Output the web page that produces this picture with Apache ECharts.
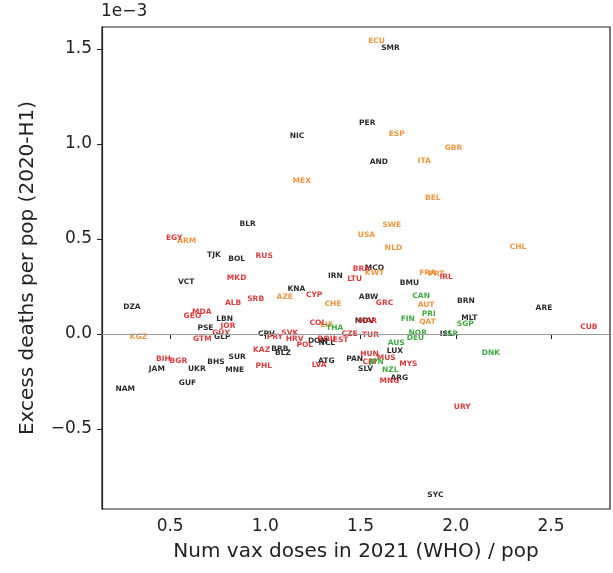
<!DOCTYPE html>
<html>
<head>
<meta charset="UTF-8">
<script src="https://cdn.jsdelivr.net/npm/echarts@6/dist/echarts.min.js"></script>
<style>
  html, body { margin: 0; padding: 0; background: #fff; }
  #chart { width: 613px; height: 573px; }
</style>
</head>
<body>
<div id="chart"></div>
<script>
// country codes, vax doses per pop (x), excess deaths per pop in 1e-3 (y), colour group
const codes = ["ECU","SMR","PER","ESP","NIC","GBR","AND","ITA","MEX","BEL","SWE","USA","NLD","CHL",
  "BLR","EGY","ARM","TJK","BOL","RUS","VCT","MKD","BRA","MCO","KWT","IRN","LTU","FRA","PRT","IRL",
  "BMU","KNA","CYP","ABW","GRC","CAN","BRN","ARE","CHE","AUT","PRI","FIN","QAT","MLT","SGP","CUB",
  "DZA","ALB","SRB","AZE","MDA","GEO","LBN","JOR","PSE","KGZ","GTM","GLP","GUY","CPV","PRY","SVK",
  "HRV","POL","COL","LIE","THA","MDV","MAR","CZE","TUR","DOM","ROU","NCL","EST","NOR","DEU","ISL",
  "ISR","AUS","LUX","HUN","CRI","JPN","MUS","PAN","SLV","LVA","ATG","MYS","NZL","ARG","MNG","DNK",
  "URY","SYC","KAZ","BRB","BLZ","PHL","BIH","BGR","JAM","BHS","SUR","UKR","MNE","GUF","NAM"];
const vaxDoses = [1.584,1.657,1.535,1.690,1.166,1.988,1.596,1.834,1.191,1.879,1.664,1.531,1.673,2.327,
  0.907,0.521,0.587,0.730,0.849,0.994,0.584,0.849,1.505,1.573,1.573,1.368,1.469,1.852,1.898,1.949,
  1.757,1.163,1.256,1.542,1.626,1.818,2.053,2.463,1.355,1.844,1.858,1.748,1.852,2.071,2.050,2.699,
  0.299,0.831,0.949,1.102,0.666,0.617,0.786,0.804,0.685,0.334,0.669,0.774,0.767,1.006,1.050,1.128,
  1.154,1.207,1.276,1.322,1.364,1.521,1.537,1.442,1.552,1.276,1.322,1.322,1.395,1.800,1.788,1.950,
  1.976,1.687,1.680,1.547,1.547,1.584,1.635,1.469,1.526,1.282,1.320,1.751,1.656,1.704,1.652,2.184,
  2.034,1.893,0.980,1.076,1.092,0.992,0.465,0.543,0.430,0.741,0.852,0.640,0.839,0.591,0.264];
const excessDeaths = [1.542,1.505,1.109,1.054,1.042,0.980,0.905,0.911,0.807,0.716,0.572,0.523,0.453,0.459,
  0.581,0.507,0.489,0.414,0.396,0.411,0.275,0.295,0.342,0.345,0.321,0.305,0.291,0.319,0.318,0.302,
  0.267,0.235,0.205,0.193,0.162,0.200,0.174,0.135,0.158,0.151,0.107,0.077,0.063,0.083,0.051,0.038,
  0.141,0.165,0.184,0.196,0.117,0.095,0.077,0.044,0.033,-0.017,-0.028,-0.014,0.005,0.000,-0.014,0.004,
  -0.029,-0.058,0.056,0.047,0.030,0.068,0.068,-0.002,-0.005,-0.035,-0.026,-0.046,-0.032,0.004,-0.019,-0.002,
  -0.002,-0.046,-0.088,-0.105,-0.147,-0.147,-0.128,-0.133,-0.184,-0.163,-0.142,-0.158,-0.189,-0.233,-0.247,-0.102,
  -0.384,-0.849,-0.084,-0.079,-0.100,-0.170,-0.133,-0.142,-0.186,-0.146,-0.119,-0.186,-0.191,-0.256,-0.288];
const groups = ["o","k","k","o","k","o","k","o","o","o","o","o","o","o",
  "k","r","o","k","k","r","k","r","r","k","o","k","r","o","o","r",
  "k","k","r","k","r","g","k","k","o","o","g","g","o","k","g","r",
  "k","r","r","o","r","r","k","r","k","o","r","k","r","k","r","r",
  "r","r","r","o","g","k","r","r","r","k","r","k","r","g","g","k",
  "g","g","k","r","r","g","r","k","k","r","k","r","g","k","r","g",
  "r","k","r","k","k","r","r","r","k","k","k","k","k","k","k"];
const groupColors = { k: "#111111", o: "#ee8a2a", r: "#d62728", g: "#2ca02c" };
const xTicks = [0.5, 1.0, 1.5, 2.0, 2.5];
const yTicks = [-0.5, 0.0, 0.5, 1.0, 1.5];

const fmt = v => (v < 0 ? "\u2212" : "") + Math.abs(v).toFixed(1);

const series = Object.keys(groupColors).map(g => ({
  type: "scatter",
  symbolSize: 0,
  silent: true,
  data: codes.map((c, i) => ({ value: [vaxDoses[i], excessDeaths[i]], name: c }))
    .filter((d, i) => groups[i] === g),
  label: {
    show: true,
    position: "inside",
    formatter: p => p.name,
    color: groupColors[g],
    fontFamily: "DejaVu Sans",
    fontWeight: "bold",
    fontSize: 7.5,
    opacity: 0.9
  },
  z: 3
}));
series.push({
  type: "line",
  data: [],
  markLine: {
    silent: true,
    symbol: "none",
    label: { show: false },
    lineStyle: { color: "#9a9a9a", width: 1.2, type: "solid" },
    data: [{ yAxis: 0 }]
  },
  z: 1
});

const chart = echarts.init(document.getElementById("chart"), null, { renderer: "canvas" });
chart.setOption({
  animation: false,
  backgroundColor: "#ffffff",
  grid: { left: 102, right: 3, top: 27, bottom: 64, show: true, borderColor: "#222", borderWidth: 1.2 },
  xAxis: {
    type: "value", min: 0.142, max: 2.81,
    name: "Num vax doses in 2021 (WHO) / pop", nameLocation: "middle", nameGap: 33,
    nameTextStyle: { fontFamily: "DejaVu Sans", fontSize: 20, color: "#222" },
    axisLine: { show: true, lineStyle: { color: "#222", width: 1.2 } },
    axisTick: { show: true, inside: false, length: 5, customValues: xTicks, lineStyle: { color: "#222" } },
    axisLabel: { customValues: xTicks, formatter: fmt, margin: 9, fontFamily: "DejaVu Sans", fontSize: 17, color: "#222" },
    splitLine: { show: false }
  },
  yAxis: {
    type: "value", min: -0.921, max: 1.616,
    name: "Excess deaths per pop (2020-H1)", nameLocation: "middle", nameGap: 64,
    nameTextStyle: { fontFamily: "DejaVu Sans", fontSize: 20, color: "#222" },
    axisLine: { show: true, lineStyle: { color: "#222", width: 1.2 } },
    axisTick: { show: true, inside: false, length: 5, customValues: yTicks, lineStyle: { color: "#222" } },
    axisLabel: { customValues: yTicks, formatter: fmt, margin: 10, fontFamily: "DejaVu Sans", fontSize: 17, color: "#222" },
    splitLine: { show: false }
  },
  graphic: [{
    type: "text", left: 101, top: 3,
    style: { text: "1e\u22123", fontFamily: "DejaVu Sans", fontSize: 17, fill: "#222" }
  }],
  series: series
});
</script>
</body>
</html>
